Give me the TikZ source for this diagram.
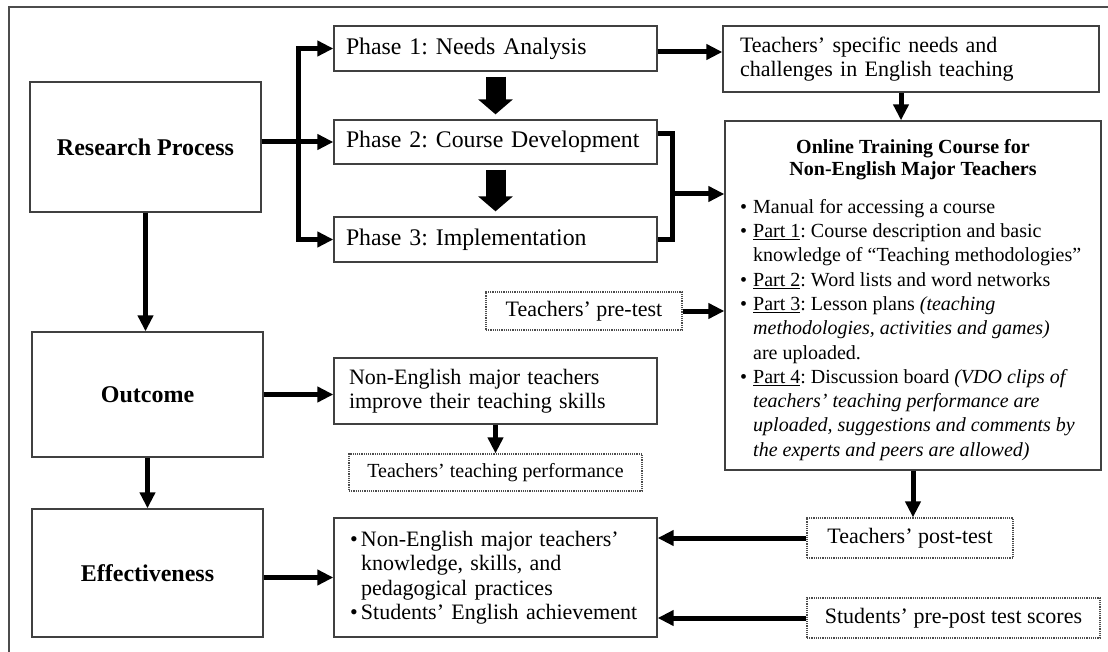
\documentclass[tikz,border=0pt]{standalone}
\usepackage{fontspec}
\setmainfont{Liberation Serif}
\usetikzlibrary{arrows.meta}
\frenchspacing

% bullet and hanging indent for the item lists
\newcommand{\lstbul}[1][13pt]{\makebox[#1][l]{\textbullet}}
\newcommand{\lstind}[1][13pt]{\hspace*{#1}}

\begin{document}
\begin{tikzpicture}[x=1pt, y=-1pt,
        box/.style={draw=black!75, line width=1.3pt, align=left, font=\fontsize{22}{24.5}\selectfont},
        phasebox/.style={box, inner xsep=12pt, text width=299pt, minimum height=45pt, font=\fontsize{23.8}{26}\selectfont},
        headbox/.style={draw=black!75, line width=1.3pt, minimum width=231pt, align=center, font=\fontsize{24}{28}\selectfont\bfseries},
        dotbox/.style={draw=black!70, densely dotted, line width=1.2pt, align=center, inner sep=0pt, font=\fontsize{22}{24.5}\selectfont},
        conn/.style={line width=5pt, -{Triangle[length=16pt,width=15pt]}},
        bar/.style={line width=5pt},
        fatarrow/.style={line width=20pt, -{Triangle[length=15pt,width=34pt]}, shorten <=5pt, shorten >=5pt}
    ]
        \useasboundingbox (0,0) rectangle (1108,652);
        \draw[draw=black!70, line width=1.3pt] (1108,7) -| (9,652);

        % left column
        \node[headbox, minimum height=130pt] (rp) at (145.5,147) {Research Process};
        \node[headbox, minimum height=125pt] (out) at (147.5,394.5) {Outcome};
        \node[headbox, minimum height=128pt] (eff) at (147.5,573) {Effectiveness};

        % phases
        \node[phasebox] (p1) at (495.5,48.5) {Phase 1: Needs Analysis};
        \node[phasebox, minimum height=44pt] (p2) at (495.5,142) {Phase 2: Course Development};
        \node[phasebox] (p3) at (495.5,239.5) {Phase 3: Implementation};

        \node[box, inner xsep=17pt, text width=342pt, minimum height=66pt] (needs) at (911,59) {Teachers’ specific needs and\\challenges in English teaching};

        % the course
        \node[draw=black!75, line width=1.3pt, minimum width=376pt, minimum height=349pt] (online) at (913,295.5) {};
        \node[anchor=north, inner sep=0pt, align=center, font=\fontsize{20}{22}\selectfont\bfseries] (ottitle) at ([yshift=-19pt]online.north) {Online Training Course for\\Non-English Major Teachers};
        \node[anchor=north west, inner sep=0pt, align=left, font=\fontsize{20}{24.3}\selectfont] (otlist) at (740,199) {\lstbul Manual for accessing a course\\
            \lstbul\underline{Part 1}: Course description and basic\\
            \lstind knowledge of “Teaching methodologies”\\
            \lstbul\underline{Part 2}: Word lists and word networks\\
            \lstbul\underline{Part 3}: Lesson plans \textit{(teaching}\\
            \lstind\textit{methodologies, activities and games)}\\
            \lstind are uploaded.\\
            \lstbul\underline{Part 4}: Discussion board \textit{(VDO clips of}\\
            \lstind\textit{teachers’ teaching performance are}\\
            \lstind\textit{uploaded, suggestions and comments by}\\
            \lstind\textit{the experts and peers are allowed)}};

        \node[dotbox, minimum width=196pt, minimum height=38pt] (pre) at (584,311) {Teachers’ pre-test};

        % outcome and effectiveness
        \node[box, inner xsep=15pt, text width=293pt, minimum height=66pt] (imp) at (495.5,391) {Non-English major teachers\\improve their teaching skills};
        \node[dotbox, minimum width=293pt, minimum height=37pt, font=\fontsize{20}{22}\selectfont] (perf) at (495.5,472.5) {Teachers’ teaching performance};
        \node[box, inner xsep=16pt, text width=291pt, minimum height=119pt] (know) at (495.5,577.5) {\lstbul[11pt]Non-English major teachers’\\
            \lstind[11pt]knowledge, skills, and\\
            \lstind[11pt]pedagogical practices\\
            \lstbul[11pt]Students’ English achievement};
        \node[dotbox, minimum width=206pt, minimum height=40pt] (post) at (910,538) {Teachers’ post-test};
        \node[dotbox, minimum width=293pt, minimum height=40pt] (stud) at (953.5,618) {Students’ pre-post test scores};

        % connectors
        \coordinate (bus) at (298,142);
        \coordinate (join) at (672,194);
        \draw[conn] (p2.west -| rp.east) -- (p2.west);
        \draw[conn] (bus) |- (p1.west);
        \draw[conn] (bus) |- (p3.west);
        \draw[fatarrow] (p1.south) -- (p2.north);
        \draw[fatarrow] (p2.south) -- (p3.north);
        \draw[conn] ([yshift=-3.5pt]p1.east) -- ([yshift=-3.5pt]p1.east -| needs.west);
        \draw[conn] ([xshift=-10pt]needs.south) -- ([xshift=-10pt]needs.south |- online.north);
        \draw[bar] ([yshift=8pt]p2.east) -| (join |- p3.east) -- (p3.east);
        \draw[conn] (join) -- (join -| online.west);
        \draw[conn] (pre.east) -- (pre.east -| online.west);
        \draw[conn] (online.south) -- (online.south |- post.north);
        \draw[conn] (post.west) -- (post.west -| know.east);
        \draw[conn] (stud.west) -- (stud.west -| know.east);
        \draw[conn] (rp.south) -- (rp.south |- out.north);
        \draw[conn] (out.south) -- (out.south |- eff.north);
        \draw[conn] (out.east) -- (out.east -| imp.west);
        \draw[conn] (know.west -| eff.east) -- (know.west);
        \draw[conn] (imp.south) -- (perf.north);
    \end{tikzpicture}
\end{document}
